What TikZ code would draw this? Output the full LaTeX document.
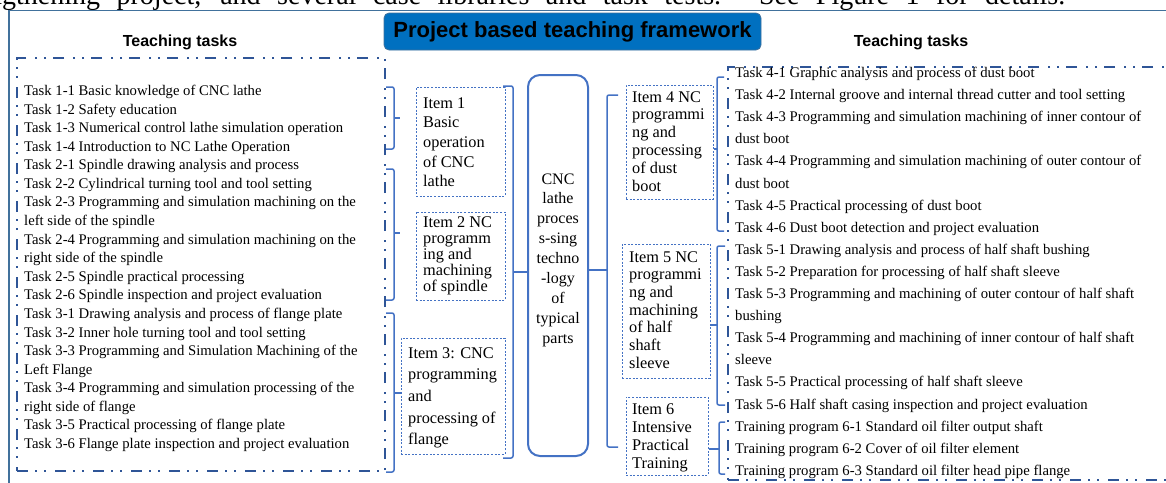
\documentclass[tikz,border=0pt]{standalone}
\usepackage{fontspec}
\setmainfont{Liberation Serif}
\newfontfamily\arialf{Liberation Sans}
\usetikzlibrary{calc}
\definecolor{frameblue}{HTML}{41719C}
\definecolor{dkblue}{HTML}{2F5597}
\definecolor{brkblue}{HTML}{4472C4}
\definecolor{titlefill}{HTML}{0070C0}
\begin{document}
\begin{tikzpicture}[x=1pt,y=-1pt,
  tasktext/.style={anchor=base west, inner sep=0pt, font=\fontsize{14.7}{17}\selectfont},
  itemtext/.style={anchor=base west, inner sep=0pt, font=\fontsize{16.3}{19}\selectfont},
  ctrtext/.style={anchor=base, inner sep=0pt, font=\fontsize{16}{19}\selectfont},
  itembox/.style={draw=brkblue, line width=1pt, dash pattern=on 2pt off 1.6pt, inner sep=0pt},
  taskbox/.style={draw=dkblue, line width=2pt, dash pattern=on 11pt off 7pt on 2pt off 7pt on 2pt off 9pt, inner sep=0pt},
  brk/.style={draw=brkblue, line width=1.5pt, rounded corners=2pt},
  head/.style={font=\arialf\bfseries\fontsize{16}{18}\selectfont, inner sep=0pt},
]
\useasboundingbox (0,0) rectangle (1166,482);
\clip (0,0) rectangle (1166,482);

% cut-off text of the page above the figure
\node[anchor=base west, inner sep=0pt, font=\fontsize{28}{30}\selectfont] (toptext) at (-12,4)
  {\makebox[1077pt][s]{ngthening project, and several case libraries and task tests. See Figure 1 for details.}};

% outer frame
\draw[frameblue, line width=1.5pt] (9,490) -- (9,10.5) -- (1175,10.5);

% title
\node[fill=titlefill, draw=frameblue, line width=0.8pt, rounded corners=5pt, minimum width=377pt,
      minimum height=37pt, inner sep=0pt, font=\arialf\bfseries\fontsize{22}{24}\selectfont]
  (title) at (572.5,31.5) {Project based teaching framework};

\node[head] (lhead) at (180,42) {Teaching tasks};
\node[head] (rhead) at (911,42) {Teaching tasks};

% task boxes
\node[taskbox, minimum width=368pt, minimum height=413pt] (lbox) at (201,264.5) {};
\node[taskbox, minimum width=462pt, minimum height=413pt] (rbox) at (959,273.5) {};

% left tasks
\foreach \t [count=\k from 0] in {
 {Task 1-1 Basic knowledge of CNC lathe},
 {Task 1-2 Safety education},
 {Task 1-3 Numerical control lathe simulation operation},
 {Task 1-4 Introduction to NC Lathe Operation},
 {Task 2-1 Spindle drawing analysis and process},
 {Task 2-2 Cylindrical turning tool and tool setting},
 {Task 2-3 Programming and simulation machining on the},
 {left side of the spindle},
 {Task 2-4 Programming and simulation machining on the},
 {right side of the spindle},
 {Task 2-5 Spindle practical processing},
 {Task 2-6 Spindle inspection and project evaluation},
 {Task 3-1 Drawing analysis and process of flange plate},
 {Task 3-2 Inner hole turning tool and tool setting},
 {Task 3-3 Programming and Simulation Machining of the},
 {Left Flange},
 {Task 3-4 Programming and simulation processing of the},
 {right side of flange},
 {Task 3-5 Practical processing of flange plate},
 {Task 3-6 Flange plate inspection and project evaluation}}
 \node[tasktext] (lt\k) at (24,{95.5+18.58*\k}) {\t};

% right tasks
\foreach \t [count=\k from 0] in {
 {Task 4-1 Graphic analysis and process of dust boot},
 {Task 4-2 Internal groove and internal thread cutter and tool setting},
 {Task 4-3 Programming and simulation machining of inner contour of},
 {dust boot},
 {Task 4-4 Programming and simulation machining of outer contour of},
 {dust boot},
 {Task 4-5 Practical processing of dust boot},
 {Task 4-6 Dust boot detection and project evaluation},
 {Task 5-1 Drawing analysis and process of half shaft bushing},
 {Task 5-2 Preparation for processing of half shaft sleeve},
 {Task 5-3 Programming and machining of outer contour of half shaft},
 {bushing},
 {Task 5-4 Programming and machining of inner contour of half shaft},
 {sleeve},
 {Task 5-5 Practical processing of half shaft sleeve},
 {Task 5-6 Half shaft casing inspection and project evaluation},
 {Training program 6-1 Standard oil filter output shaft},
 {Training program 6-2 Cover of oil filter element},
 {Training program 6-3 Standard oil filter head pipe flange}}
 \node[tasktext] (rt\k) at (735,{77.5+22.1*\k}) {\t};

% item boxes
\node[itembox, minimum width=89pt, minimum height=109pt] (item1) at (460.5,141.5) {};
\foreach \t [count=\k from 0] in {{Item 1},{Basic},{operation},{of CNC},{lathe}}
  \node[itemtext] (i1l\k) at (423,{108+19.7*\k}) {\t};

\node[itembox, minimum width=89pt, minimum height=88pt] (item2) at (460.5,256) {};
\foreach \t [count=\k from 0] in {{Item 2 NC},{programm},{ing and},{machining},{of spindle}}
  \node[itemtext] (i2l\k) at (423,{227+16.2*\k}) {\t};

\node[itembox, minimum width=104pt, minimum height=116pt] (item3) at (453,396) {};
\foreach \t [count=\k from 0] in {{Item 3: CNC},{programming},{and},{processing of},{flange}}
  \node[itemtext] (i3l\k) at (408,{358+21.7*\k}) {\t};

% centre box
\node[draw=brkblue, line width=2pt, rounded corners=12pt, minimum width=60pt, minimum height=381pt,
      inner sep=0pt] (centre) at (558,265.5) {};
\foreach \t [count=\k from 0] in {{CNC},{lathe},{proces},{s-sing},{techno},{-logy},{of},{typical},{parts}}
  \node[ctrtext] (cl\k) at (558,{184+19.9*\k}) {\t};

\node[itembox, minimum width=87pt, minimum height=114pt] (item4) at (669.5,142) {};
\foreach \t [count=\k from 0] in {{Item 4 NC},{programmi},{ng and},{processing},{of dust},{boot}}
  \node[itemtext] (i4l\k) at (632,{102+17.8*\k}) {\t};

\node[itembox, minimum width=88pt, minimum height=134pt] (item5) at (666,311) {};
\foreach \t [count=\k from 0] in {{Item 5 NC},{programmi},{ng and},{machining},{of half},{shaft},{sleeve}}
  \node[itemtext] (i5l\k) at (629,{262+17.7*\k}) {\t};

\node[itembox, minimum width=82pt, minimum height=78pt] (item6) at (667,436) {};
\foreach \t [count=\k from 0] in {{Item 6},{Intensive},{Practical},{Training}}
  \node[itemtext] (i6l\k) at (632,{414+18*\k}) {\t};

% brackets: task groups -> items 1-3
\draw[brk] (386,87) -- (394,87) -- (394,149) -- (386,149);
\draw[brk] (394,118) -- (400,118);
\draw[brk] (386,169) -- (394,169) -- (394,300) -- (386,300);
\draw[brk] (394,233) -- (400,233);
\draw[brk] (386,313) -- (394,313) -- (394,472) -- (386,472);
\draw[brk] (394,393) -- (item3.west |- 0,393);

% items 1-3 -> centre
\draw[brk] (503,86) -- (513,86) -- (513,458) -- (503,458);
\draw[brk] (513,272) -- (centre.west |- 0,272);

% centre -> items 4-6
\draw[brk] (618,95) -- (607,95) -- (607,447) -- (618,447);
\draw[brk] (centre.east |- 0,270) -- (607,270);

% items 4-6 -> task groups
\draw[brk] (724,77) -- (717,77) -- (717,231) -- (724,231);
\draw[brk] (item4.east |- 0,149) -- (717,149);
\draw[brk] (725,246) -- (717,246) -- (717,405) -- (725,405);
\draw[brk] (item5.east |- 0,325) -- (717,325);
\draw[brk] (725,422) -- (719,422) -- (719,474) -- (725,474);
\draw[brk] (item6.east |- 0,449) -- (719,449);
\end{tikzpicture}
\end{document}
